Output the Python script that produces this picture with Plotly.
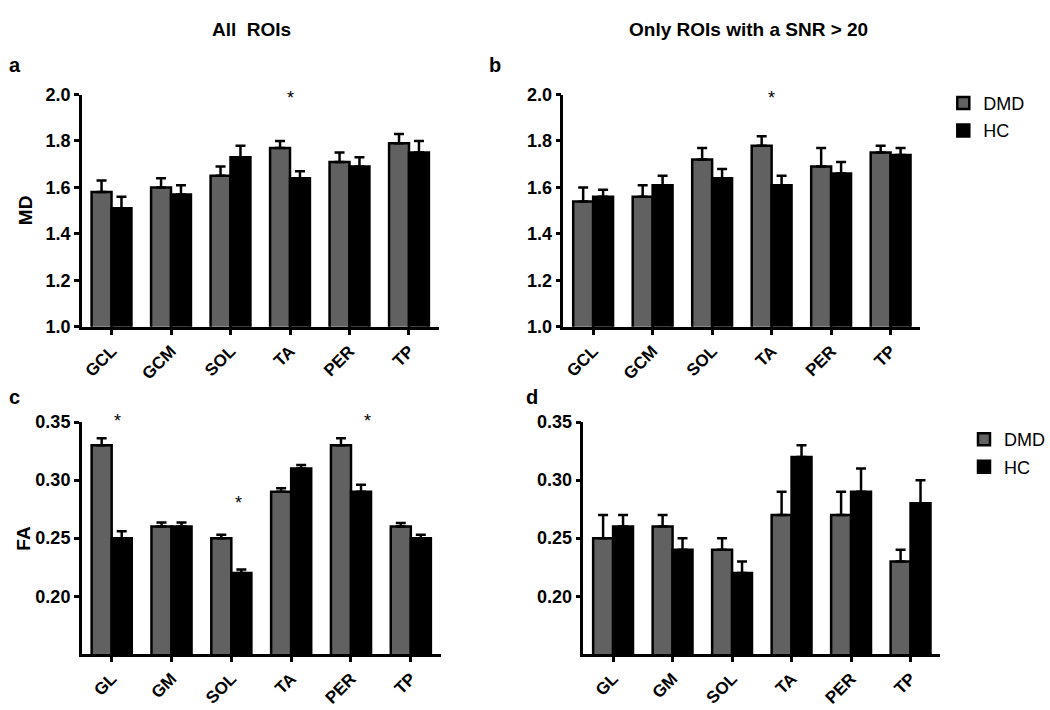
import plotly.graph_objects as go

# ---------------- data ----------------
md_cats = ["GCL", "GCM", "SOL", "TA", "PER", "TP"]
fa_cats = ["GL", "GM", "SOL", "TA", "PER", "TP"]

# Panel a: MD, all ROIs
a_dmd = [1.58, 1.60, 1.65, 1.77, 1.71, 1.79]
a_dmd_err = [0.05, 0.04, 0.04, 0.03, 0.04, 0.04]
a_hc = [1.51, 1.57, 1.73, 1.64, 1.69, 1.75]
a_hc_err = [0.05, 0.04, 0.05, 0.03, 0.04, 0.05]

# Panel b: MD, SNR > 20
b_dmd = [1.54, 1.56, 1.72, 1.78, 1.69, 1.75]
b_dmd_err = [0.06, 0.05, 0.05, 0.04, 0.08, 0.03]
b_hc = [1.56, 1.61, 1.64, 1.61, 1.66, 1.74]
b_hc_err = [0.03, 0.04, 0.04, 0.04, 0.05, 0.03]

# Panel c: FA, all ROIs
c_dmd = [0.330, 0.260, 0.250, 0.290, 0.330, 0.260]
c_dmd_err = [0.006, 0.0035, 0.003, 0.003, 0.006, 0.003]
c_hc = [0.250, 0.260, 0.220, 0.310, 0.290, 0.250]
c_hc_err = [0.006, 0.0035, 0.003, 0.003, 0.006, 0.003]

# Panel d: FA, SNR > 20
d_dmd = [0.25, 0.26, 0.24, 0.27, 0.27, 0.23]
d_dmd_err = [0.02, 0.01, 0.01, 0.02, 0.02, 0.01]
d_hc = [0.26, 0.24, 0.22, 0.32, 0.29, 0.28]
d_hc_err = [0.01, 0.01, 0.01, 0.01, 0.02, 0.02]

md_ticks = [1.0, 1.2, 1.4, 1.6, 1.8, 2.0]
fa_ticks = [0.20, 0.25, 0.30, 0.35]

# significance marks: (panel axis suffix, category index + offset, y)
stars = [("", 3.0, 2.0), ("2", 3.0, 2.0),
         ("3", 0.1, 0.35), ("3", 2.12, 0.283), ("3", 4.27, 0.35)]

# ---------------- style ----------------
W, H = 1050, 710
GRAY = "#616161"
FONT = "Liberation Sans, Arial, sans-serif"
NARROW = "Liberation Sans Narrow, Arial Narrow, Liberation Sans, Arial, sans-serif"


def px(x0, x1):
    return [x0 / W, x1 / W]


def py(ytop, ybot):
    return [(H - ybot) / H, (H - ytop) / H]


fig = go.Figure()

panels = [
    ("", a_dmd, a_dmd_err, a_hc, a_hc_err, md_cats, "legend", False),
    ("2", b_dmd, b_dmd_err, b_hc, b_hc_err, md_cats, "legend", True),
    ("3", c_dmd, c_dmd_err, c_hc, c_hc_err, fa_cats, "legend2", False),
    ("4", d_dmd, d_dmd_err, d_hc, d_hc_err, fa_cats, "legend2", True),
]

for suf, dmd, dmde, hc, hce, cats, leg, show in panels:
    xi = list(range(len(cats)))
    for name, vals, errs, col in (("DMD", dmd, dmde, GRAY), ("HC", hc, hce, "black")):
        fig.add_trace(go.Bar(
            x=xi, y=vals, name=name,
            marker=dict(color=col, line=dict(color="black", width=2.5)),
            error_y=dict(type="data", symmetric=False, array=errs,
                         arrayminus=[0] * len(errs), color="black",
                         thickness=2.5, width=5),
            xaxis="x" + suf, yaxis="y" + suf,
            legend=leg, showlegend=show, legendgroup=leg + name,
        ))

axis_common = dict(showline=True, linecolor="black", linewidth=2.5,
                   ticks="outside", tickcolor="black", tickwidth=2.5,
                   ticklen=5, showgrid=False, zeroline=False)

geo = {
    "": (px(82, 440), py(87, 326), md_cats, [1.0, 2.0], md_ticks, "%.1f"),
    "2": (px(565, 923), py(87, 326), md_cats, [1.0, 2.0], md_ticks, "%.1f"),
    "3": (px(82, 442), py(424, 663), fa_cats, [0.15, 0.35], fa_ticks, "%.2f"),
    "4": (px(585, 943), py(424, 663), fa_cats, [0.15, 0.35], fa_ticks, "%.2f"),
}

lay = {}
for suf, (xd, yd, cats, yr, ytv, fmt) in geo.items():
    lay["xaxis" + suf] = dict(axis_common, domain=xd, range=[-0.5, len(cats) - 0.5],
                              tickvals=list(range(len(cats))), ticktext=cats,
                              tickangle=-45, anchor="y" + suf, fixedrange=True,
                              tickfont=dict(family=FONT, size=17, color="black",
                                            weight="bold"))
    lay["yaxis" + suf] = dict(axis_common, domain=yd, range=yr, tickvals=ytv,
                              ticktext=[fmt % v for v in ytv],
                              anchor="x" + suf, fixedrange=True,
                              tickfont=dict(family=FONT, size=18, color="black",
                                            weight="bold"))

annotations = []
for suf, xv, yv in stars:
    annotations.append(dict(x=xv, y=yv, xref="x" + suf, yref="y" + suf, text="*",
                            showarrow=False, yanchor="middle",
                            yshift=(1 if yv in (0.35,) else -3),
                            font=dict(family=FONT, size=18, color="black")))

titles = [("All  ROIs", 252, 20), ("Only ROIs with a SNR > 20", 751, 20)]
for t, xx, yy in titles:
    annotations.append(dict(x=xx / W, y=1 - yy / H, xref="paper", yref="paper",
                            text="<b>%s</b>" % t, showarrow=False,
                            xanchor="center", yanchor="middle",
                            font=dict(family=NARROW, size=19, color="black")))

letters = [("a", 7, 57), ("b", 488, 57), ("c", 7, 398), ("d", 526, 398)]
for t, xx, yy in letters:
    annotations.append(dict(x=xx / W, y=1 - yy / H, xref="paper", yref="paper",
                            text="<b>%s</b>" % t, showarrow=False,
                            xanchor="left", yanchor="middle",
                            font=dict(family=FONT, size=20, color="black")))

ytitles = [("MD", 25, 206), ("FA", 24, 543)]
for t, xx, yy in ytitles:
    annotations.append(dict(x=xx / W, y=1 - yy / H, xref="paper", yref="paper",
                            text="<b>%s</b>" % t, showarrow=False, textangle=-90,
                            xanchor="center", yanchor="middle",
                            font=dict(family=FONT, size=19, color="black")))

fig.update_layout(
    width=W, height=H, margin=dict(l=0, r=0, t=0, b=0),
    paper_bgcolor="white", plot_bgcolor="white",
    barmode="group", bargap=0.33, bargroupgap=0,
    annotations=annotations,
    legend=dict(x=946 / W, y=1 - 77 / H, xanchor="left", yanchor="top",
                font=dict(family=FONT, size=18, color="black"),
                bgcolor="rgba(0,0,0,0)", tracegroupgap=1, itemwidth=30),
    legend2=dict(x=967 / W, y=1 - 423 / H, xanchor="left", yanchor="top",
                 font=dict(family=FONT, size=18, color="black"),
                 bgcolor="rgba(0,0,0,0)", tracegroupgap=1, itemwidth=30),
    **lay,
)

fig.write_html("out.html", config={"displayModeBar": False},
               post_script="document.body.style.margin='0px';")
